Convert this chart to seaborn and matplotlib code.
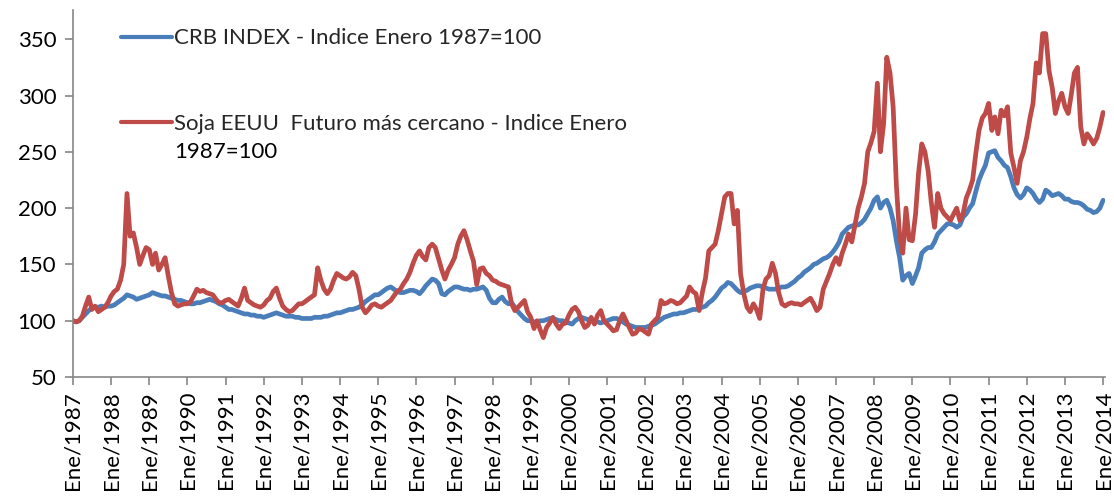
import matplotlib
matplotlib.use("Agg")
import matplotlib.pyplot as plt
import numpy as np
import pandas as pd
import seaborn as sns

# ---- data (monthly readings, Jan 1987 .. Jan 2014) ----
crb_by_year = [
    [100, 99, 100, 103, 106, 109, 111, 112, 112, 113, 112, 113],   # 1987
    [113, 114, 116, 118, 120, 123, 122, 121, 119, 120, 121, 122],   # 1988
    [123, 125, 124, 123, 122, 122, 121, 120, 119, 118, 118, 117],   # 1989
    [116, 115, 115, 116, 116, 117, 118, 119, 118, 117, 115, 114],   # 1990
    [112, 110, 110, 109, 108, 107, 106, 106, 105, 105, 104, 104],   # 1991
    [103, 104, 105, 106, 107, 106, 105, 104, 104, 104, 103, 103],   # 1992
    [102, 102, 102, 102, 103, 103, 103, 104, 104, 105, 106, 107],   # 1993
    [107, 108, 109, 110, 110, 111, 112, 114, 117, 119, 121, 123],   # 1994
    [123, 125, 127, 129, 130, 128, 126, 125, 125, 126, 127, 127],   # 1995
    [126, 124, 127, 131, 134, 137, 136, 133, 124, 123, 126, 128],   # 1996
    [130, 130, 129, 128, 128, 127, 128, 128, 129, 130, 127, 120],   # 1997
    [116, 116, 119, 121, 117, 115, 116, 112, 108, 105, 102, 100],   # 1998
    [100, 99, 98, 100, 100, 101, 102, 102, 101, 100, 100, 99],      # 1999
    [98, 97, 100, 102, 103, 102, 101, 100, 99, 99, 98, 99],         # 2000
    [100, 101, 102, 102, 101, 99, 97, 96, 95, 94, 94, 94],          # 2001
    [94, 95, 96, 97, 99, 101, 103, 104, 105, 106, 106, 107],        # 2002
    [107, 108, 109, 110, 110, 111, 112, 113, 116, 118, 121, 125],   # 2003
    [129, 131, 134, 133, 130, 127, 125, 126, 127, 129, 130, 131],   # 2004
    [131, 130, 129, 128, 128, 128, 129, 130, 130, 131, 133, 135],   # 2005
    [138, 140, 143, 145, 147, 150, 151, 153, 155, 156, 158, 161],   # 2006
    [165, 170, 177, 180, 183, 184, 185, 185, 187, 190, 195, 200],   # 2007
    [207, 210, 200, 205, 207, 200, 189, 171, 156, 136, 140, 142],   # 2008
    [133, 140, 147, 160, 163, 165, 165, 170, 177, 180, 183, 186],   # 2009
    [186, 185, 183, 185, 192, 195, 200, 204, 215, 225, 232, 238],   # 2010
    [249, 250, 251, 245, 242, 238, 236, 228, 218, 212, 209, 212],   # 2011
    [218, 216, 213, 208, 205, 208, 216, 214, 211, 212, 213, 211],   # 2012
    [208, 208, 206, 205, 205, 204, 202, 199, 198, 196, 197, 200],   # 2013
    [207],                                                          # 2014
]

soja_by_year = [
    [100, 99, 100, 104, 113, 121, 110, 113, 108, 110, 112, 116],   # 1987
    [122, 126, 128, 136, 150, 213, 175, 178, 165, 150, 158, 165],   # 1988
    [163, 150, 160, 145, 150, 156, 140, 125, 115, 113, 114, 115],   # 1989
    [115, 117, 122, 128, 126, 127, 125, 124, 123, 119, 116, 116],   # 1990
    [118, 119, 117, 115, 113, 120, 129, 118, 116, 114, 113, 112],   # 1991
    [114, 118, 120, 126, 129, 120, 113, 110, 108, 109, 112, 115],   # 1992
    [115, 117, 119, 121, 123, 147, 136, 128, 124, 128, 136, 142],   # 1993
    [140, 138, 137, 139, 143, 140, 128, 112, 107, 110, 114, 115],   # 1994
    [113, 112, 114, 116, 118, 122, 126, 128, 133, 137, 143, 151],   # 1995
    [158, 162, 157, 154, 165, 168, 165, 155, 145, 137, 145, 150],   # 1996
    [156, 168, 175, 180, 172, 162, 153, 132, 146, 147, 142, 140],   # 1997
    [136, 135, 133, 132, 131, 130, 115, 109, 112, 115, 118, 108],   # 1998
    [103, 93, 100, 92, 85, 94, 98, 103, 97, 93, 97, 98],            # 1999
    [105, 110, 112, 108, 100, 94, 96, 103, 97, 105, 109, 100],      # 2000
    [97, 94, 91, 92, 100, 106, 100, 94, 88, 89, 93, 92],            # 2001
    [90, 88, 97, 100, 103, 118, 115, 116, 118, 117, 115, 116],      # 2002
    [119, 122, 130, 126, 124, 109, 125, 138, 162, 165, 168, 180],   # 2003
    [195, 210, 213, 213, 186, 198, 142, 124, 112, 108, 115, 110],   # 2004
    [102, 128, 137, 140, 151, 142, 125, 115, 113, 115, 116, 115],   # 2005
    [115, 114, 116, 118, 120, 115, 109, 112, 128, 135, 142, 150],   # 2006
    [156, 150, 160, 168, 177, 170, 185, 200, 210, 222, 250, 258],   # 2007
    [268, 311, 250, 275, 334, 320, 290, 220, 175, 160, 200, 172],   # 2008
    [171, 195, 231, 257, 250, 233, 205, 183, 213, 200, 195, 192],   # 2009
    [189, 195, 200, 189, 195, 209, 216, 225, 249, 269, 280, 284],   # 2010
    [293, 269, 281, 266, 287, 282, 290, 249, 236, 222, 242, 250],   # 2011
    [263, 280, 293, 329, 320, 355, 355, 322, 307, 284, 295, 302],   # 2012
    [290, 284, 300, 320, 325, 272, 257, 266, 262, 257, 262, 272],   # 2013
    [285],                                                          # 2014
]

crb_label = "CRB INDEX - Indice Enero 1987=100"
soja_label = "Soja EEUU  Futuro más cercano - Indice Enero"
soja_label_line2 = "1987=100"
tick_years = list(range(1987, 2015))
tick_labels = [f"Ene/{y}" for y in tick_years]
y_ticks = [50, 100, 150, 200, 250, 300, 350]

crb = [v for row in crb_by_year for v in row]
soja = [v for row in soja_by_year for v in row]
dates = pd.date_range("1987-01-01", periods=len(crb), freq="MS")

df = pd.DataFrame({
    "fecha": np.concatenate([dates, dates]),
    "valor": crb + soja,
    "serie": [crb_label] * len(crb) + [soja_label] * len(soja),
})

# ---- styling ----
sns.set_style("white")
plt.rcParams["font.family"] = ["Lato", "DejaVu Sans"]
FS = 16

fig = plt.figure(figsize=(11.14, 4.97), dpi=100)
ax = fig.add_axes([0.0655, 0.2414, 0.9265, 0.7386])

sns.lineplot(data=df, x="fecha", y="valor", hue="serie",
             palette={crb_label: "#4A7EBB", soja_label: "#BE4B48"},
             linewidth=3.4, ax=ax, legend=True)

ax.set_xlim(pd.Timestamp("1987-01-01"), pd.Timestamp("2014-01-20"))
ax.set_ylim(50, 376)
ax.set_yticks(y_ticks)
ax.set_xticks([pd.Timestamp(f"{y}-01-01") for y in tick_years])
ax.set_xticklabels(tick_labels, rotation=90)
ax.set_xlabel("")
ax.set_ylabel("")

for s in ["top", "right"]:
    ax.spines[s].set_visible(False)
for s in ["left", "bottom"]:
    ax.spines[s].set_color("#868686")
    ax.spines[s].set_linewidth(1.2)

ax.tick_params(axis="both", which="major", direction="out", length=6,
               width=1.2, color="#868686", labelsize=FS, labelcolor="#000000",
               left=True, bottom=True)
ax.tick_params(axis="x", pad=4)
ax.tick_params(axis="y", pad=6)

leg = ax.legend(loc="upper left", bbox_to_anchor=(0.038, 0.974), frameon=False,
                fontsize=FS, handlelength=2.3, handletextpad=0.1,
                labelspacing=2.95, borderaxespad=0.0)
for line in leg.get_lines():
    line.set_linewidth(3)

# second line of the soja legend label, placed right under its first line
fig.canvas.draw()
t2 = leg.get_texts()[1]
bb = t2.get_window_extent(renderer=fig.canvas.get_renderer())
inv = ax.transAxes.inverted()
x0, y0 = inv.transform((bb.x0, bb.y0))
ax.text(x0, y0 - 0.022, soja_label_line2, transform=ax.transAxes,
        fontsize=FS, va="top", ha="left", color="#000000")

fig.savefig("out.png", dpi=100)
